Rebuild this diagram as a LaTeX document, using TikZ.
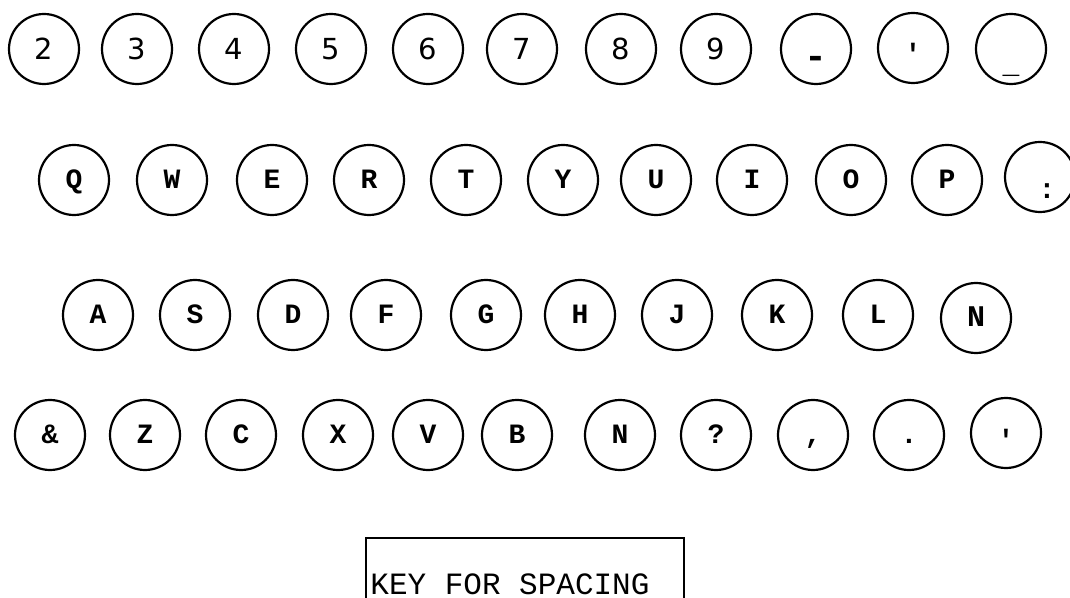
\documentclass[tikz,border=0pt]{standalone}
\usepackage{fontspec}
\setmonofont{Liberation Mono}
\newfontfamily\digitfont{DejaVu Sans}
\usepackage{tikz}

\begin{document}
\begin{tikzpicture}[x=0.5pt,y=-0.5pt,
  keycap/.style={circle, draw, line width=1.1pt, minimum size=35pt, inner sep=0pt,
    text height=9pt, text depth=0pt,
    font=\ttfamily\bfseries\fontsize{14}{14}\selectfont},
  digitcap/.style={keycap, text height=10.5pt, font=\digitfont\fontsize{14.5}{14.5}\selectfont}]
  \useasboundingbox (0,0) rectangle (1070,598);
  \clip (0,0) rectangle (1070,598);

  % top row: figures
  \foreach \name/\txt/\x in {k2/2/44, k3/3/137, k4/4/234, k5/5/331, k6/6/428,
                             k7/7/522, k8/8/621, k9/9/716}{
    \node[digitcap] (\name) at (\x,49) {\txt};
  }
  \node[keycap] (kdash) at (816,49) {\raisebox{-5.4pt}{\fontsize{19}{19}\selectfont -}};
  \node[keycap] (kquote) at (913,48) {\raisebox{-3.5pt}{'}};
  \node[keycap] (kunder) at (1011,49) {\raisebox{-8pt}{\_}};

  % second row
  \foreach \name/\txt/\x in {kq/Q/74, kw/W/172, ke/E/272, kr/R/369, kt/T/466,
                             ky/Y/563, ku/U/656, ki/I/752, ko/O/851, kp/P/947}{
    \node[keycap] (\name) at (\x,180) {\txt};
  }
  \node[keycap] (kcolon) at (1040,177) {\hspace*{7pt}\raisebox{-6.5pt}{:}};

  % third row
  \foreach \name/\txt/\x in {ka/A/98, ks/S/195, kd/D/293, kf/F/386, kg/G/486,
                             kh/H/580, kj/J/677, kk/K/777, kl/L/878}{
    \node[keycap] (\name) at (\x,315) {\txt};
  }
  \node[keycap, font=\ttfamily\bfseries\fontsize{15}{15}\selectfont] (kbold) at (976,318) {N};

  % bottom row
  \foreach \name/\txt/\x in {kamp/\&/50, kz/Z/145, kc/C/241, kx/X/338, kv/V/428,
                             kb/B/517, kn/N/620, kask/?/716, kcomma/{,}/813,
                             kdot/./909}{
    \node[keycap] (\name) at (\x,435) {\txt};
  }
  \node[keycap] (kapos) at (1006,433) {\raisebox{-3.5pt}{'}};

  % spacing bar
  \node[draw, line width=0.9pt, anchor=north west, minimum width=159pt,
        minimum height=33pt, inner sep=0pt] (spacebar) at (365,537) {};
  \node[anchor=base west, inner sep=0pt, font=\ttfamily\fontsize{15.5}{15.5}\selectfont]
    (spacetxt) at (370,594) {KEY FOR SPACING};
\end{tikzpicture}
\end{document}
